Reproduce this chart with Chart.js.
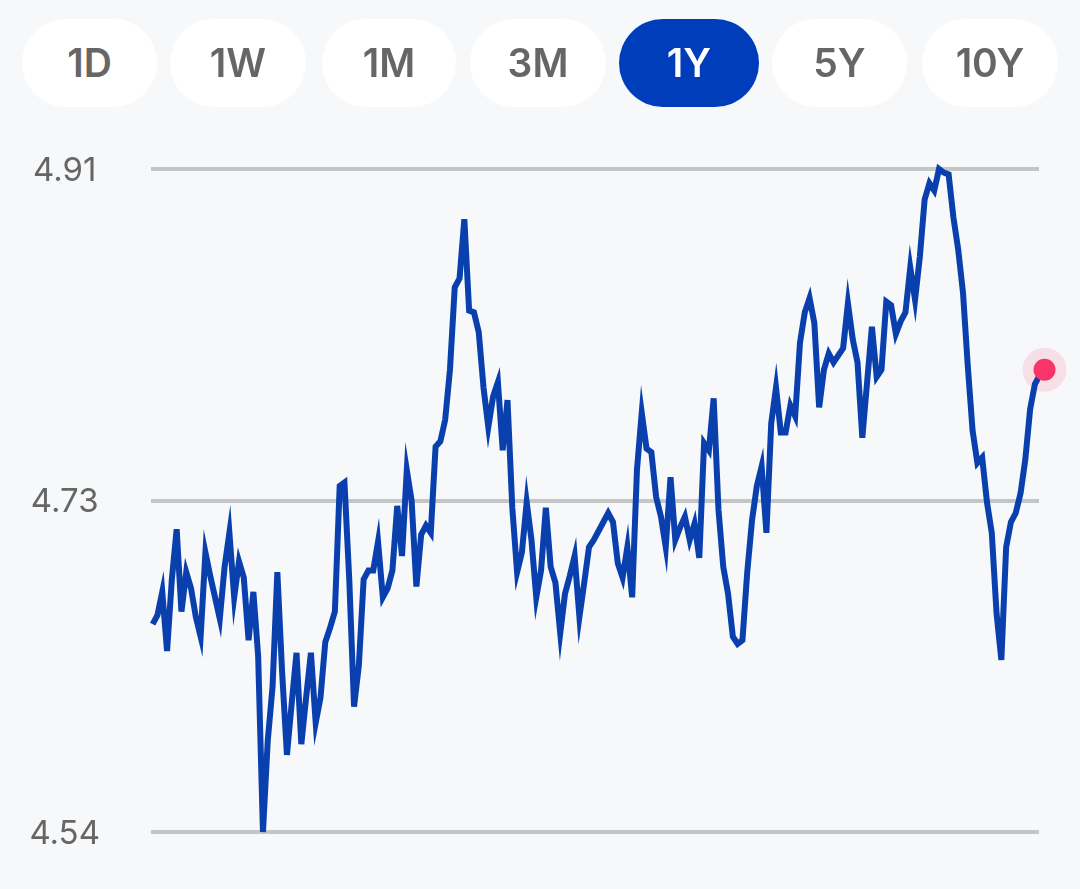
<!DOCTYPE html>
<html>
<head>
<meta charset="utf-8">
<script src="https://cdn.jsdelivr.net/npm/chart.js@4"></script>
<style>
    html, body { margin: 0; padding: 0; background: #f6f8fa; }
    #page { position: relative; width: 1080px; height: 889px; overflow: hidden; }
    #yieldChart { position: absolute; left: 0; top: 0; }
    .range {
        position: absolute;
        top: 19px;
        height: 88px;
        line-height: 88px;
        border-radius: 44px;
        background: #ffffff;
        color: #666666;
        font-family: Inter, sans-serif;
        font-weight: 600;
        font-size: 39px;
        text-align: center;
    }
    .range.active { background: #003dbb; color: #ffffff; }
</style>
</head>
<body>
<div id="page">
    <canvas id="yieldChart" width="1080" height="889"></canvas>
</div>
<script>
const rangeLabels = ["1D", "1W", "1M", "3M", "1Y", "5Y", "10Y"];
const rangeLefts = [22, 170, 322, 470, 619, 772, 922];
const rangeRights = [157, 306, 456, 606, 759, 907, 1058];
const activeRange = "1Y";

const tickValues = [4.54, 4.725, 4.91];
const tickLabels = ["4.54", "4.73", "4.91"];

const yields = [
    4.656, 4.661, 4.674, 4.641, 4.681, 4.709, 4.663, 4.685, 4.676, 4.660,
    4.649, 4.696, 4.683, 4.671, 4.659, 4.688, 4.707, 4.671, 4.691, 4.682,
    4.647, 4.674, 4.638, 4.540, 4.591, 4.621, 4.685, 4.629, 4.583, 4.612,
    4.640, 4.589, 4.615, 4.640, 4.601, 4.615, 4.646, 4.654, 4.663, 4.733,
    4.735, 4.681, 4.610, 4.633, 4.681, 4.686, 4.686, 4.702, 4.671, 4.676,
    4.686, 4.722, 4.694, 4.742, 4.725, 4.677, 4.706, 4.711, 4.707, 4.755,
    4.758, 4.770, 4.798, 4.844, 4.849, 4.882, 4.831, 4.830, 4.819,
    4.788, 4.766, 4.783, 4.791, 4.753, 4.781, 4.721, 4.685, 4.696, 4.724,
    4.703, 4.671, 4.686, 4.721, 4.688, 4.679, 4.651, 4.673, 4.683, 4.694,
    4.660, 4.679, 4.699, 4.703, 4.708, 4.713, 4.718, 4.713, 4.690, 4.682, 4.699,
    4.671, 4.742, 4.774, 4.754, 4.752, 4.727, 4.716, 4.699, 4.738, 4.703,
    4.710, 4.716, 4.703, 4.712, 4.693, 4.757, 4.753, 4.782, 4.720, 4.688,
    4.673, 4.649, 4.645, 4.647, 4.685, 4.714, 4.733, 4.744, 4.707, 4.768,
    4.788, 4.763, 4.763, 4.778, 4.772, 4.813, 4.830, 4.838, 4.824, 4.777,
    4.798, 4.807, 4.802, 4.806, 4.810, 4.835, 4.815, 4.802, 4.760, 4.791,
    4.822, 4.794, 4.798, 4.836, 4.834, 4.818, 4.825, 4.830, 4.855, 4.837,
    4.861, 4.893, 4.902, 4.898, 4.910, 4.908, 4.907, 4.883, 4.865, 4.841,
    4.800, 4.764, 4.746, 4.749, 4.724, 4.707, 4.662, 4.636, 4.699, 4.713,
    4.718, 4.729, 4.748, 4.776, 4.790, 4.795, 4.798
];

const lastIndex = yields.length - 1;
const linePoints = yields.map((value, i) => ({ x: i, y: value }));
const lastPoint = [{ x: lastIndex, y: yields[lastIndex] }];

rangeLabels.forEach(function(label, i) {
    const pill = document.createElement("div");
    pill.className = label === activeRange ? "range active" : "range";
    pill.style.left = rangeLefts[i] + "px";
    pill.style.width = (rangeRights[i] - rangeLefts[i]) + "px";
    pill.textContent = label;
    document.getElementById("page").appendChild(pill);
});

new Chart(document.getElementById("yieldChart").getContext("2d"), {
    type: "line",
    data: {
        datasets: [{
            data: lastPoint,
            order: 2,
            showLine: false,
            clip: false,
            pointRadius: 22,
            pointBorderWidth: 0,
            pointBackgroundColor: "rgba(247, 53, 106, 0.13)"
        }, {
            data: linePoints,
            order: 1,
            clip: false,
            borderColor: "#0a3fae",
            borderWidth: 6,
            borderJoinStyle: "miter",
            tension: 0,
            pointRadius: 0
        }, {
            data: lastPoint,
            order: 0,
            showLine: false,
            clip: false,
            pointRadius: 11,
            pointBorderWidth: 0,
            pointBackgroundColor: "#f7356a"
        }]
    },
    options: {
        responsive: false,
        animation: false,
        layout: {
            padding: { top: 169, right: 41, bottom: 57, left: 0 }
        },
        plugins: {
            legend: { display: false },
            title: { display: false },
            tooltip: { enabled: false }
        },
        scales: {
            x: {
                type: "linear",
                min: -0.35,
                max: 184.85,
                display: false
            },
            y: {
                min: 4.54,
                max: 4.91,
                afterFit: function(scale) {
                    scale.width = 151;
                },
                afterBuildTicks: function(scale) {
                    scale.ticks = tickValues.map(value => ({ value: value }));
                },
                grid: {
                    color: "#c4c5c7",
                    lineWidth: 4,
                    tickColor: "transparent",
                    tickLength: 37
                },
                border: { display: false },
                ticks: {
                    color: "#666666",
                    padding: 14,
                    crossAlign: "center",
                    labelOffset: 2,
                    autoSkip: false,
                    font: { family: "Inter", size: 33, weight: "400" },
                    callback: function(value) {
                        return tickLabels[tickValues.indexOf(value)];
                    }
                }
            }
        }
    }
});
</script>
</body>
</html>
